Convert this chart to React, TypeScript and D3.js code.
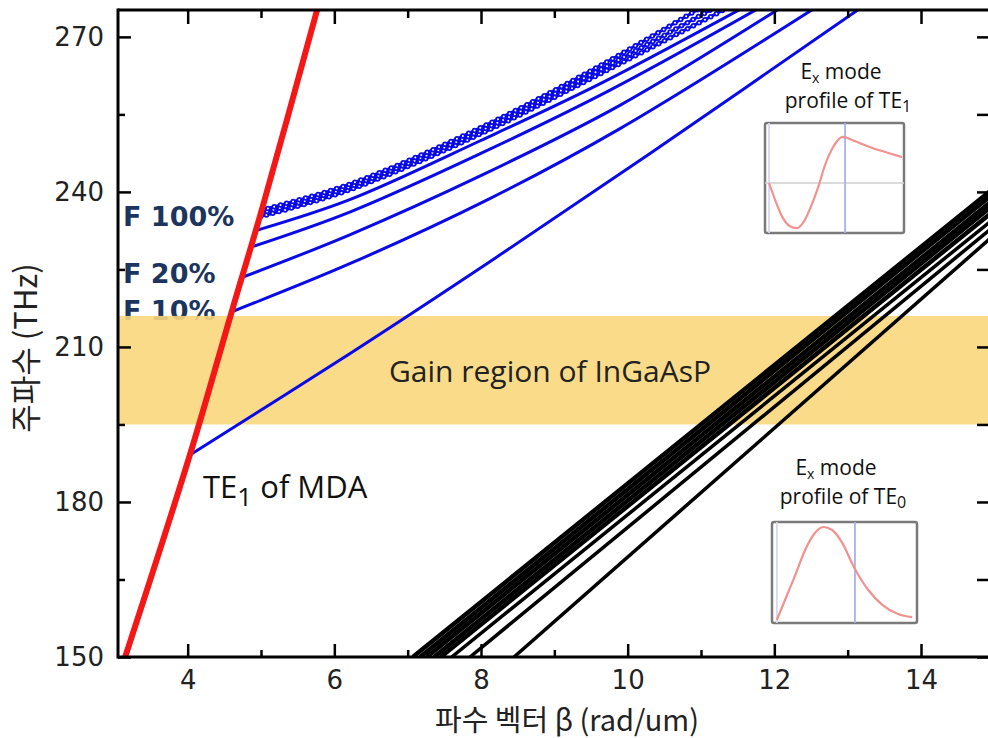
import React, { useEffect, useRef } from 'react'
import * as d3 from 'd3'

const width = 988
const height = 738

// axis ticks
const freqTicks = [150, 180, 210, 240, 270]
const freqMinorTicks = [165, 195, 225, 255]
const betaTicks = [4, 6, 8, 10, 12, 14]
const betaMinorTicks = [5, 7, 9, 11, 13]

// gain region of InGaAsP (THz)
const gainBand = [195, 216]

// TE1 of MDA (red)
const redBeta = [3.12, 4.03, 4.6, 5.01, 5.79]
const redFreq = [148.8, 189.1, 216.8, 236.5, 276.5]

// blue dispersion curves, lowest first
const blueBeta = [
  [4.03, 6.21, 8.12, 10.3, 13.3],
  [4.6, 6.21, 8.12, 9.89, 12.71],
  [4.75, 6.21, 7.99, 9.9, 12.24],
  [4.88, 6.21, 7.99, 9.76, 11.97],
  [4.95, 6.21, 7.99, 9.62, 11.75],
  [4.99, 6.21, 7.99, 9.62, 11.55],
  [5.0, 6.21, 7.99, 9.62, 11.36],
  [5.01, 6.21, 7.99, 9.62, 11.16]
]
const blueFreq = [
  [189.1, 208.7, 226.5, 247.4, 276.8],
  [216.8, 226.1, 238.7, 252.2, 277],
  [223.5, 231.7, 243.1, 256.8, 277],
  [229.4, 236.1, 247.4, 259.7, 277],
  [232.6, 238.5, 249.9, 260.9, 277],
  [235.2, 240.4, 251.2, 262.8, 277],
  [235.9, 241.0, 251.8, 263.6, 277],
  [236.5, 241.5, 252.4, 264.4, 277]
]
const blueCircled = [false, false, false, false, false, true, true, true]

// black curves: beta at 150 THz, freq at beta = 15
const blackStartBeta = [7.07, 7.17, 7.26, 7.36, 7.45, 7.6, 7.85, 8.45]
const blackEndFreq = [240.8, 239.8, 238.6, 237.6, 236.4, 234.9, 233.4, 231.7]
const blackEndBeta = 15

// inset mode profiles (normalised)
const te1X = [0.015, 0.06, 0.11, 0.17, 0.22, 0.28, 0.33, 0.38, 0.43, 0.49, 0.56, 0.65, 0.76, 0.87, 1.0]
const te1Y = [0, -0.35, -0.69, -0.9, -0.94, -0.77, -0.46, -0.08, 0.375, 0.75, 0.96, 0.875, 0.75, 0.65, 0.54]
const te1Core = [0.015, 0.578]
const te0X = [0.02, 0.078, 0.15, 0.22, 0.29, 0.35, 0.41, 0.48, 0.57, 0.67, 0.77, 0.88, 0.98]
const te0Y = [0, 0.215, 0.48, 0.75, 0.935, 1.0, 0.97, 0.84, 0.56, 0.32, 0.16, 0.065, 0.03]
const te0Core = [0.02, 0.574]

const tickFont = '"DejaVu Sans", sans-serif'
const textFont = '"Open Sans", "Noto Sans", sans-serif'
const krFont = '"Noto Sans CJK KR", sans-serif'

export default function App() {
  const svgRef = useRef<SVGSVGElement>(null)

  useEffect(() => {
    const svg = d3.select(svgRef.current)
    svg.selectAll('*').remove()

    const x = d3.scaleLinear().domain([3.05, 14.9]).range([118, 987])
    const y = d3.scaleLinear().domain([150, 275.2]).range([657, 10])
    const left = 118
    const top = 10
    const bottom = 657

    svg.append('rect').attr('width', width).attr('height', height).attr('fill', '#fff')

    svg.append('defs').append('clipPath').attr('id', 'plotClip')
      .append('rect').attr('x', left).attr('y', top).attr('width', width - left).attr('height', bottom - top)

    // F labels (under the band)
    const fLabels = [['F 100%', 226], ['F 20%', 283], ['F 10%', 320]] as const
    fLabels.forEach(([t, by]) => {
      svg.append('text')
        .attr('x', 123).attr('y', by)
        .style('font-family', tickFont).style('font-weight', 'bold')
        .style('font-size', '27px').style('fill', '#1c355e')
        .text(t)
    })

    // gain band
    svg.append('rect')
      .attr('x', left).attr('y', y(gainBand[1]))
      .attr('width', width - left).attr('height', y(gainBand[0]) - y(gainBand[1]))
      .attr('fill', '#fad77c').attr('opacity', 0.9)

    svg.append('text')
      .attr('x', 550).attr('y', 382).attr('text-anchor', 'middle')
      .style('font-family', textFont).style('font-size', '30px').style('fill', '#222')
      .text('Gain region of InGaAsP')

    const plot = svg.append('g').attr('clip-path', 'url(#plotClip)')
    const line = d3.line<[number, number]>()
      .x(d => x(d[0])).y(d => y(d[1]))
      .curve(d3.curveCatmullRom.alpha(0.5))

    // black curves
    blackStartBeta.forEach((b, i) => {
      const pts: [number, number][] = [[b, 150], [blackEndBeta, blackEndFreq[i]]]
      plot.append('path').datum(pts).attr('d', line)
        .attr('fill', 'none').attr('stroke', '#000')
        .attr('stroke-width', i < 5 ? 4.5 : 3.5)
    })

    // blue curves
    blueBeta.forEach((bs, i) => {
      const pts = bs.map((b, j) => [b, blueFreq[i][j]] as [number, number])
      plot.append('path').datum(pts).attr('d', line)
        .attr('fill', 'none').attr('stroke', '#0a0ae8').attr('stroke-width', 3)
      if (blueCircled[i]) {
        plot.append('path').datum(pts).attr('d', line)
          .attr('fill', 'none').attr('stroke', '#0a0ae8').attr('stroke-width', 5.5)
          .attr('stroke-linecap', 'round').attr('stroke-dasharray', '0 6.5')
        plot.append('path').datum(pts).attr('d', line)
          .attr('fill', 'none').attr('stroke', '#fff').attr('stroke-width', 2)
          .attr('stroke-linecap', 'round').attr('stroke-dasharray', '0 6.5')
      }
    })

    // red light line
    plot.append('path')
      .datum(redBeta.map((b, i) => [b, redFreq[i]] as [number, number]))
      .attr('d', line)
      .attr('fill', 'none').attr('stroke', '#f51616').attr('stroke-width', 6)

    // axes
    const styleAxis = (g: any) => {
      g.select('.domain').attr('stroke', '#000').attr('stroke-width', 3)
      g.selectAll('.tick line').attr('stroke', '#000').attr('stroke-width', 2.5)
      g.selectAll('.tick text')
        .style('font-family', tickFont).style('font-size', '26px').attr('fill', '#222')
    }

    const gBottom = svg.append('g').attr('transform', `translate(0,${bottom})`)
      .call(d3.axisBottom(x).tickValues(betaTicks).tickSizeInner(-13).tickSizeOuter(0).tickPadding(6))
    styleAxis(gBottom)
    gBottom.select('.domain').attr('d', `M${left},0H${width}`)
    gBottom.selectAll('.tick text').attr('dy', '1em')
    svg.append('g').attr('transform', `translate(0,${bottom})`)
      .call(d3.axisBottom(x).tickValues(betaMinorTicks).tickSize(-7).tickFormat(() => ''))
      .call(g => { g.select('.domain').remove(); g.selectAll('.tick line').attr('stroke', '#000').attr('stroke-width', 2.5) })

    const gTop = svg.append('g').attr('transform', `translate(0,${top})`)
      .call(d3.axisTop(x).tickValues(betaTicks).tickSizeInner(-14).tickSizeOuter(0).tickFormat(() => ''))
    styleAxis(gTop)
    gTop.select('.domain').attr('d', `M${left},0H${width}`)
    svg.append('g').attr('transform', `translate(0,${top})`)
      .call(d3.axisTop(x).tickValues(betaMinorTicks).tickSize(-8).tickFormat(() => ''))
      .call(g => { g.select('.domain').remove(); g.selectAll('.tick line').attr('stroke', '#000').attr('stroke-width', 2.5) })

    const gLeft = svg.append('g').attr('transform', `translate(${left},0)`)
      .call(d3.axisLeft(y).tickValues(freqTicks).tickSizeInner(-13).tickSizeOuter(0).tickPadding(14))
    styleAxis(gLeft)
    gLeft.select('.domain').attr('d', `M0,${top - 1.5}V${bottom + 1.5}`)
    svg.append('g').attr('transform', `translate(${left},0)`)
      .call(d3.axisLeft(y).tickValues(freqMinorTicks).tickSize(-7).tickFormat(() => ''))
      .call(g => { g.select('.domain').remove(); g.selectAll('.tick line').attr('stroke', '#000').attr('stroke-width', 2.5) })

    const gRight = svg.append('g').attr('transform', `translate(${width},0)`)
      .call(d3.axisRight(y).tickValues(freqTicks.concat(freqMinorTicks)).tickSize(-11).tickFormat(() => ''))
    gRight.select('.domain').remove()
    gRight.selectAll('.tick line').attr('stroke', '#000').attr('stroke-width', 2.5)

    // axis titles
    svg.append('text')
      .attr('x', 567).attr('y', 731).attr('text-anchor', 'middle')
      .style('font-family', krFont).style('font-size', '29px').style('fill', '#222')
      .text('파수 벡터 β (rad/um)')
    svg.append('text')
      .attr('transform', 'translate(37,348) rotate(-90)').attr('text-anchor', 'middle')
      .style('font-family', krFont).style('font-size', '31px').style('fill', '#222')
      .text('주파수 (THz)')

    // TE1 of MDA label
    const te = svg.append('text').attr('x', 203).attr('y', 498)
      .style('font-family', textFont).style('font-size', '31px').style('fill', '#111')
    te.append('tspan').text('TE')
    te.append('tspan').attr('dy', 8).style('font-size', '26px').text('1')
    te.append('tspan').attr('dy', -8).text(' of MDA')

    // mode profile insets
    const drawInset = (
      box: [number, number, number, number], xr: [number, number], yd: [number, number], yr: [number, number],
      px: number[], py: number[], core: number[], zeroLine: boolean, sub: string, tx: number, ty: number
    ) => {
      const sx = d3.scaleLinear().domain([0, 1]).range(xr)
      const sy = d3.scaleLinear().domain(yd).range(yr)
      const g = svg.append('g')
      g.append('rect').attr('x', box[0]).attr('y', box[1]).attr('width', box[2]).attr('height', box[3])
        .attr('fill', '#fff').attr('stroke', '#7a7a7a').attr('stroke-width', 2.5).attr('rx', 2)
      if (zeroLine) {
        g.append('line').attr('x1', box[0]).attr('x2', box[0] + box[2]).attr('y1', sy(0)).attr('y2', sy(0))
          .attr('stroke', '#cfcfcf').attr('stroke-width', 1.5)
      }
      core.forEach((c, k) => {
        g.append('line').attr('x1', sx(c)).attr('x2', sx(c)).attr('y1', box[1]).attr('y2', box[1] + box[3])
          .attr('stroke', k === 0 ? '#d6d6f6' : '#a9b0f0').attr('stroke-width', 1.8)
      })
      g.append('path')
        .datum(px.map((v, i) => [v, py[i]] as [number, number]))
        .attr('d', d3.line<[number, number]>().x(d => sx(d[0])).y(d => sy(d[1])).curve(d3.curveMonotoneX))
        .attr('fill', 'none').attr('stroke', '#f2928e').attr('stroke-width', 2.2)

      const t1 = g.append('text').attr('x', tx).attr('y', ty).attr('text-anchor', 'middle')
        .style('font-family', textFont).style('font-size', '21px').style('fill', '#111')
      t1.append('tspan').text('E')
      t1.append('tspan').attr('dy', 4).style('font-size', '14px').text('x')
      t1.append('tspan').attr('dy', -4).text(' mode')
      const t2 = g.append('text').attr('x', tx + 7).attr('y', ty + 29).attr('text-anchor', 'middle')
        .style('font-family', textFont).style('font-size', '21px').style('fill', '#111')
      t2.append('tspan').text('profile of TE')
      t2.append('tspan').attr('dy', 4).style('font-size', '16px').text(sub)
    }

    drawInset([765, 123, 139, 110], [767, 902], [-1, 1], [231, 135], te1X, te1Y, te1Core, true, '1', 841, 79)
    drawInset([772, 522, 145, 101], [774, 915], [0, 1], [620, 527], te0X, te0Y, te0Core, false, '0', 836, 475)
  }, [])

  return (
    <svg
      ref={svgRef}
      width={width}
      height={height}
      style={{ position: 'absolute', left: 0, top: 0, display: 'block' }}
    />
  )
}
